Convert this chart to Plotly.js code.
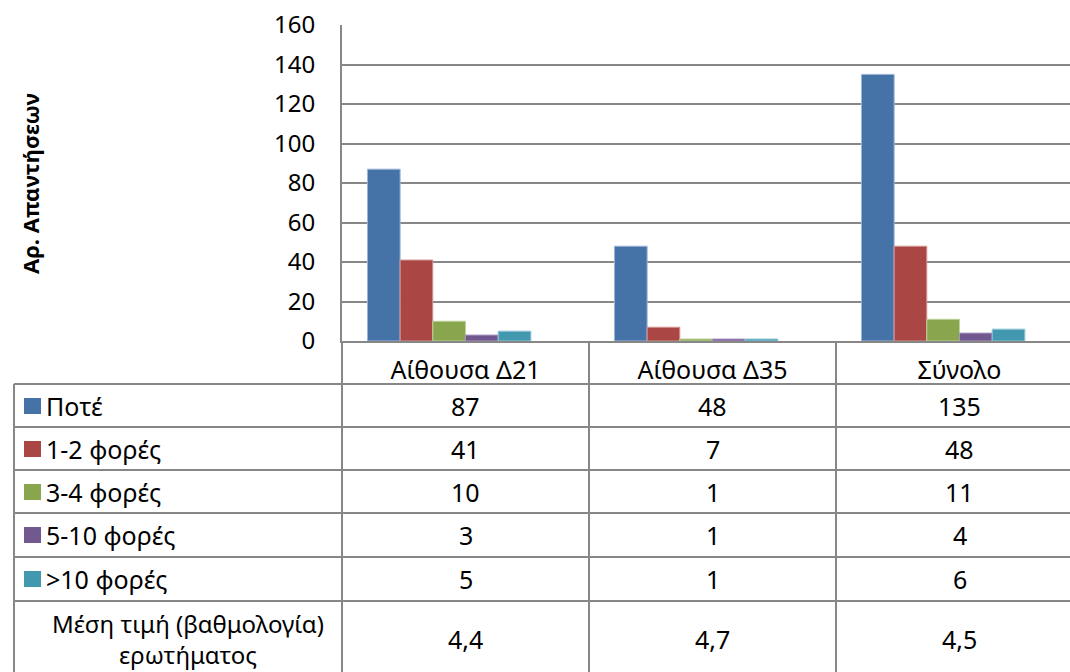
<!DOCTYPE html>
<html>
<head>
<meta charset="utf-8">
<script src="https://cdn.plot.ly/plotly-3.0.1.min.js"></script>
<style>
html,body{margin:0;padding:0;background:#fff;}
#chart{width:1070px;height:672px;}
</style>
</head>
<body>
<div id="chart"></div>
<script>
// ---------- data ----------
const categories = ['Αίθουσα Δ21', 'Αίθουσα Δ35', 'Σύνολο'];
const seriesNames = ['Ποτέ', '1-2 φορές', '3-4 φορές', '5-10 φορές', '>10 φορές'];
const never = [87, 48, 135];
const times1to2 = [41, 7, 48];
const times3to4 = [10, 1, 11];
const times5to10 = [3, 1, 4];
const timesOver10 = [5, 1, 6];
const meanScore = [4.4, 4.7, 4.5];
const meanLabel = 'Μέση τιμή (βαθμολογία)<br>ερωτήματος';
const yTitle = 'Αρ. Απαντήσεων';
const yTicks = [0, 20, 40, 60, 80, 100, 120, 140, 160];

// ---------- style ----------
const colors = ['#4572A7', '#AA4643', '#89A54E', '#71588F', '#4198AF'];
const edgeColors = ['#9db6d6', '#d49a98', '#bcd39a', '#a896c0', '#93c8d6'];
const gridCol = '#878787';
const FONT = 'Noto Sans, Open Sans, sans-serif';
const FS = 25;

// pixel helpers (plot area: x 342..1070, y 25..341)
const L = 342, W = 1070 - 342, T = 25, B = 341, H = B - T;
const fx = px => (px - L) / W;
const fy = py => (B - py) / H;

const seriesValues = [never, times1to2, times3to4, times5to10, timesOver10];

const traces = seriesValues.map((vals, i) => ({
  type: 'bar',
  name: seriesNames[i],
  x: categories,
  y: vals,
  marker: {color: colors[i], line: {color: edgeColors[i], width: 1}},
  hoverinfo: 'x+y+name'
}));
// sixth series (mean score) exists in the source chart but has no visible fill
traces.push({
  type: 'bar',
  name: 'Μέση τιμή',
  x: categories,
  y: meanScore,
  marker: {color: 'rgba(0,0,0,0)', line: {width: 0}},
  hoverinfo: 'skip',
  showlegend: false
});

// ---------- table (lines, legend keys, text) ----------
const rowLines = [384, 427, 470, 513, 557, 601];
const rowCenters = [406, 449, 492, 535, 579];
const meanCenter = 639;
const shapes = [];
const line = (x0, y0, x1, y1) => shapes.push({
  type: 'line', xref: 'paper', yref: 'paper',
  x0: fx(x0), y0: fy(y0), x1: fx(x1), y1: fy(y1),
  line: {color: gridCol, width: 2}
});
rowLines.forEach(py => line(14, py, 1070, py));
line(14, 384, 14, 672);
line(342, 341, 342, 672);
// category separators below the axis, placed between categories via the x axis
[0.5, 1.5].forEach(xv => shapes.push({
  type: 'line', xref: 'x', yref: 'paper',
  x0: xv, x1: xv, y0: fy(341), y1: fy(672),
  line: {color: gridCol, width: 2}
}));
// legend keys
rowCenters.forEach((py, i) => shapes.push({
  type: 'rect', xref: 'paper', yref: 'paper',
  x0: fx(24), x1: fx(41), y0: fy(py + 8), y1: fy(py - 8),
  fillcolor: colors[i], line: {width: 0}
}));

const annotations = [];
const txt = (o) => annotations.push(Object.assign({
  showarrow: false, font: {family: FONT, size: FS, color: '#000'}
}, o));
seriesNames.forEach((name, i) => {
  txt({xref: 'paper', yref: 'paper', x: fx(44), y: fy(rowCenters[i]),
       xanchor: 'left', yanchor: 'middle', text: name});
  seriesValues[i].forEach((v, j) => {
    txt({xref: 'x', yref: 'paper', x: j, y: fy(rowCenters[i]),
         xanchor: 'center', yanchor: 'middle', text: String(v)});
  });
});
txt({xref: 'paper', yref: 'paper', x: fx(188), y: fy(meanCenter),
     xanchor: 'center', yanchor: 'middle', align: 'center', text: meanLabel,
     font: {family: FONT, size: 24, color: '#000'}});
meanScore.forEach((v, j) => {
  txt({xref: 'x', yref: 'paper', x: j, y: fy(meanCenter),
       xanchor: 'center', yanchor: 'middle', text: v.toFixed(1).replace('.', ',')});
});
// y axis title
annotations.push({
  xref: 'paper', yref: 'paper', x: fx(30), y: fy(184),
  xanchor: 'center', yanchor: 'middle', textangle: -90, showarrow: false,
  text: '<b>' + yTitle + '</b>',
  font: {family: FONT, size: 22, color: '#000'}
});

const layout = {
  width: 1070, height: 672,
  margin: {l: L, r: 0, t: T, b: 672 - B, pad: 0},
  paper_bgcolor: '#fff', plot_bgcolor: '#fff',
  showlegend: false,
  barmode: 'group', bargap: 0.206, bargroupgap: 0,
  font: {family: FONT, size: FS, color: '#000'},
  xaxis: {
    type: 'category',
    range: [-0.5, -0.5 + W / 247],
    showgrid: false, zeroline: false,
    showline: true, linecolor: gridCol, linewidth: 2,
    ticks: '', ticklabelstandoff: 6,
    tickfont: {family: FONT, size: FS, color: '#000'},
    fixedrange: true
  },
  yaxis: {
    range: [0, 160], tickvals: yTicks,
    showgrid: true, gridcolor: gridCol, gridwidth: 2,
    zeroline: false,
    showline: true, linecolor: gridCol, linewidth: 2,
    ticks: '', ticklabelstandoff: 20,
    tickfont: {family: FONT, size: 24, color: '#000'},
    fixedrange: true
  },
  shapes: shapes,
  annotations: annotations
};

Plotly.newPlot('chart', traces, layout, {displayModeBar: false, staticPlot: true});
</script>
</body>
</html>
